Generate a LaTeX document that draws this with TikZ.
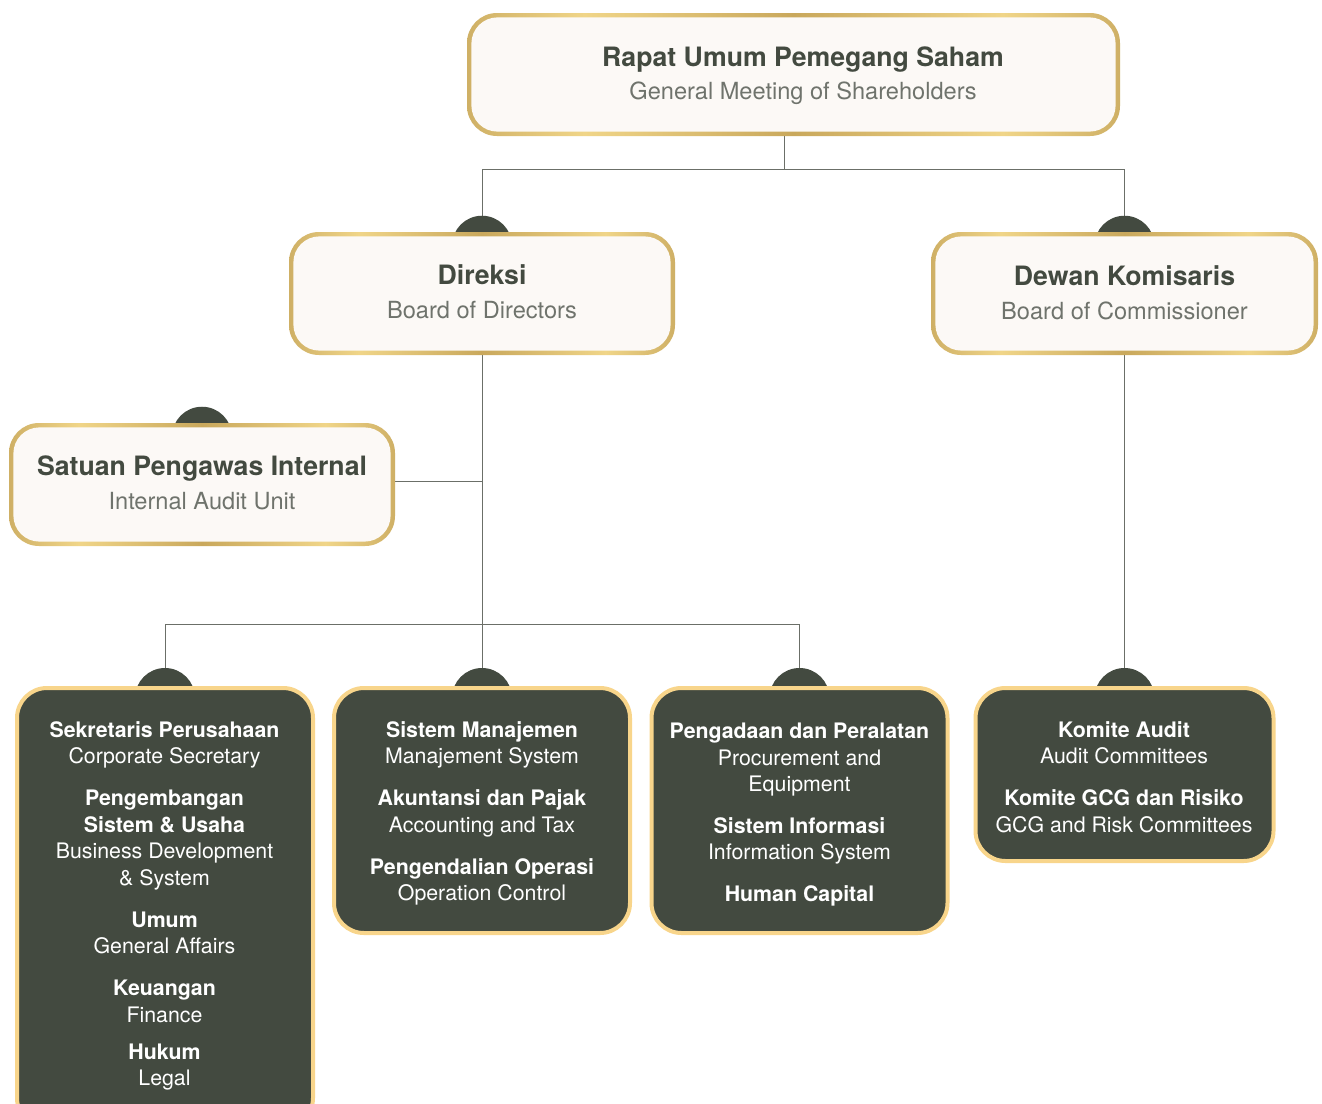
\documentclass[tikz,border=0pt]{standalone}
\usepackage{fontspec}
\setmainfont{TeX Gyre Heros}
\usetikzlibrary{calc}
\definecolor{darkg}{HTML}{434A40}
\definecolor{subg}{HTML}{6F736C}
\definecolor{cream}{HTML}{FCF9F6}
\definecolor{golddark}{HTML}{B5934A}
\definecolor{goldlight}{HTML}{F0D588}
\definecolor{goldmid}{HTML}{C9A85C}
\definecolor{paleg}{HTML}{F8D58B}
\definecolor{linec}{HTML}{6B6F68}
\pgfdeclarehorizontalshading{goldsh}{100bp}{color(0bp)=(golddark); color(18bp)=(golddark); color(34bp)=(goldlight); color(50bp)=(goldmid); color(66bp)=(goldlight); color(82bp)=(golddark); color(100bp)=(golddark)}
\pgfdeclarelayer{bg}
\pgfsetlayers{bg,main}
\tikzset{
  lightbox/.style={rectangle, inner sep=0pt, rounded corners=22.5pt,
    path picture={
      \shade[shading=goldsh] (path picture bounding box.south west) rectangle (path picture bounding box.north east);
      \fill[cream, rounded corners=19.5pt] ([xshift=3.3pt,yshift=3.3pt]path picture bounding box.south west) rectangle ([xshift=-3.3pt,yshift=-3.3pt]path picture bounding box.north east);
    }},
  darkbox/.style={rectangle, inner sep=0pt, rounded corners=22.5pt, fill=darkg, draw=paleg, line width=3pt},
  ttl/.style={anchor=base, inner sep=0pt, text=darkg, font=\fontsize{20}{24}\selectfont\bfseries},
  sub/.style={anchor=base, inner sep=0pt, text=subg, font=\fontsize{17.7}{21}\selectfont},
  dtx/.style={anchor=base, inner sep=0pt, text=white, font=\fontsize{16}{19}\selectfont},
  conn/.style={draw=linec, line width=0.7pt},
  bump/.style={fill=darkg}
}
\begin{document}
\begin{tikzpicture}[x=0.75pt,y=-0.75pt]
\useasboundingbox (0,0) rectangle (1322,1104);
\clip (0,0) rectangle (1322,1104);
\begin{pgfonlayer}{bg}
\fill[white] (0,0) rectangle (1322,1104);
\end{pgfonlayer}

% light boxes
\node[lightbox, minimum width=653*0.75pt, minimum height=123*0.75pt] (rups) at (793.5,74.5) {};
\node[lightbox, minimum width=386*0.75pt, minimum height=123*0.75pt] (dir) at (482,293.5) {};
\node[lightbox, minimum width=387*0.75pt, minimum height=123*0.75pt] (dew) at (1124.5,293.5) {};
\node[lightbox, minimum width=386*0.75pt, minimum height=123*0.75pt] (sat) at (202,484.5) {};

% dark boxes
\node[darkbox, minimum width=296*0.75pt, minimum height=440*0.75pt] (b1) at (165,908) {};
\node[darkbox, minimum width=296*0.75pt, minimum height=245*0.75pt] (b2) at (482,810.5) {};
\node[darkbox, minimum width=296*0.75pt, minimum height=245*0.75pt] (b3) at (799.5,810.5) {};
\node[darkbox, minimum width=298*0.75pt, minimum height=173*0.75pt] (b4) at (1124.5,774.5) {};

% junction coordinates
\coordinate (j0) at (784,169);
\coordinate (j1) at (482,624);
\coordinate (js) at (395,481);

\begin{pgfonlayer}{bg}
% connectors
\draw[conn] (rups.south -| j0) -- (j0);
\draw[conn] (dir.north) -- (dir.north |- j0) -- (dew.north |- j0) -- (dew.north);
\draw[conn] (dir.south) -- (b2.north);
\draw[conn] (sat.east |- js) -- (js -| dir.south);
\draw[conn] (b1.north) -- (b1.north |- j1) -- (b3.north |- j1) -- (b3.north);
\draw[conn] (dew.south) -- (b4.north);
% bumps
\foreach \n in {dir,dew,sat} \fill[bump] ([yshift=-10.5pt]\n.north) circle[radius=22.5pt];
\foreach \n in {b1,b2,b3,b4} \fill[bump] ([yshift=-9pt]\n.north) circle[radius=22.5pt];
\end{pgfonlayer}

% light box texts
\node[ttl] (rups-t) at (803,66) {Rapat Umum Pemegang Saham};
\node[sub] (rups-s) at (803,99.5) {General Meeting of Shareholders};
\node[ttl] (dir-t) at (482,284) {Direksi};
\node[sub] (dir-s) at (482,318) {Board of Directors};
\node[ttl] (dew-t) at (1124.5,285.5) {Dewan Komisaris};
\node[sub] (dew-s) at (1124.5,319.5) {Board of Commissioner};
\node[ttl] (sat-t) at (202,475) {Satuan Pengawas Internal};
\node[sub] (sat-s) at (202,509) {Internal Audit Unit};

% dark box texts
\foreach \yy/\tt [count=\i] in {737/\bfseries Sekretaris Perusahaan, 763/Corporate Secretary, 805/\bfseries Pengembangan, 832/\bfseries Sistem \& Usaha, 858/Business Development, 885/\& System, 927/\bfseries Umum, 953/General Affairs, 995/\bfseries Keuangan, 1022/Finance, 1059/\bfseries Hukum, 1085/Legal}
  \node[dtx] (b1t\i) at (164.5,\yy) {\tt};
\foreach \yy/\tt [count=\i] in {737/\bfseries Sistem Manajemen, 763/Manajement System, 805/\bfseries Akuntansi dan Pajak, 832/Accounting and Tax, 874/\bfseries Pengendalian Operasi, 900/Operation Control}
  \node[dtx] (b2t\i) at (482,\yy) {\tt};
\foreach \yy/\tt [count=\i] in {738/\bfseries Pengadaan dan Peralatan, 765/Procurement and, 791/Equipment, 833/\bfseries Sistem Informasi, 859/Information System, 901/\bfseries Human Capital}
  \node[dtx] (b3t\i) at (799.5,\yy) {\tt};
\foreach \yy/\tt [count=\i] in {737/\bfseries Komite Audit, 763/Audit Committees, 805/\bfseries Komite GCG dan Risiko, 832/GCG and Risk Committees}
  \node[dtx] (b4t\i) at (1124,\yy) {\tt};
\end{tikzpicture}
\end{document}
